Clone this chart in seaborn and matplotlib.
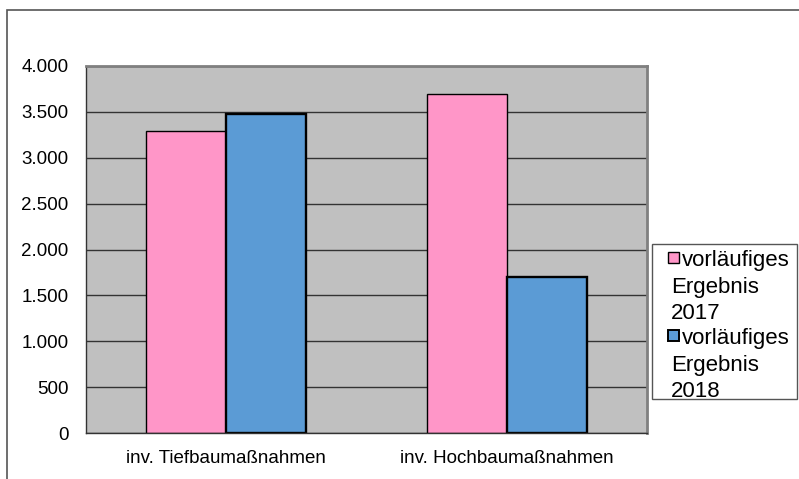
import matplotlib
matplotlib.use("Agg")
import matplotlib.pyplot as plt
import matplotlib.ticker as mticker
from matplotlib.patches import Rectangle
import seaborn as sns
import pandas as pd

categories = ["inv. Tiefbaumaßnahmen", "inv. Hochbaumaßnahmen"]
series_names = ["vorläufiges Ergebnis 2017", "vorläufiges Ergebnis 2018"]
legend_lines = [["vorläufiges", "Ergebnis", "2017"], ["vorläufiges", "Ergebnis", "2018"]]
values_2017 = [3290, 3690]
values_2018 = [3475, 1705]
colors = ["#FF96C8", "#5B9BD5"]

df = pd.DataFrame({
    "cat": categories * 2,
    "series": [series_names[0]] * 2 + [series_names[1]] * 2,
    "val": values_2017 + values_2018,
})

sns.set_theme(style="white")
plt.rcParams["font.family"] = ["Liberation Sans", "DejaVu Sans"]

W, H = 799, 479
fig = plt.figure(figsize=(W / 100, H / 100), dpi=100)
ax = fig.add_axes([86 / W, (H - 433) / H, (647 - 86) / W, (433 - 66) / H])

sns.barplot(data=df, x="cat", y="val", hue="series", palette=colors,
            width=0.57, ax=ax, edgecolor="black", linewidth=1.0,
            saturation=1, legend=False, order=categories, hue_order=series_names)

# slightly heavier outline on the second series, as in the reference
for cont, lw in zip(ax.containers, [1.0, 1.7]):
    for p in cont.patches:
        p.set_linewidth(lw)

ax.set_facecolor("#C0C0C0")
ax.set_xlim(-0.5, 1.5)
ax.set_ylim(0, 4000)
ax.set_yticks(range(0, 4001, 500))
ax.yaxis.set_major_formatter(mticker.FuncFormatter(lambda v, p: f"{int(v):,}".replace(",", ".")))
ax.yaxis.grid(True, color="#333333", linewidth=1.0)
ax.set_axisbelow(True)
ax.set_xlabel("")
ax.set_ylabel("")

ax.set_xticks([0, 1])
ax.set_xticklabels(categories, fontsize=13.5, color="black")
ax.tick_params(axis="x", which="major", length=0, pad=12)
ax.set_xticks([-0.5, 0.5, 1.5], minor=True)
ax.tick_params(axis="x", which="minor", length=5, width=1, color="#555555", direction="out")
ax.tick_params(axis="y", length=5, width=1, color="#555555", direction="out",
               labelsize=13.5, labelcolor="black", pad=7.5)

for side in ["left", "bottom"]:
    ax.spines[side].set_color("#333333")
    ax.spines[side].set_linewidth(1.0)
for side in ["top", "right"]:
    ax.spines[side].set_visible(True)
    ax.spines[side].set_color("#808080")
    ax.spines[side].set_linewidth(2.0)

# outer chart frame (left and top visible)
fig.add_artist(Rectangle((7 / W, -0.1), 1.0, (H - 10) / H + 0.1, transform=fig.transFigure,
                         fill=False, edgecolor="#555555", linewidth=1.2))

# legend box drawn by hand: swatch beside the first line, wrapped lines start under it
def px(x, y):
    return x / W, (H - y) / H

x0, y0 = px(652, 399)
fig.add_artist(Rectangle((x0, y0), (797 - 652) / W, (399 - 244) / H, transform=fig.transFigure,
                         facecolor="white", edgecolor="#555555", linewidth=1.0))
entry_top = [252, 330]
line_pitch = 26.5
for lines, col, sq_top, lw in zip(legend_lines, colors, entry_top, [1.0, 1.4]):
    sx, sy = px(668, sq_top + 11)
    fig.add_artist(Rectangle((sx, sy), 11 / W, 11 / H, transform=fig.transFigure,
                             facecolor=col, edgecolor="black", linewidth=lw))
    for i, line in enumerate(lines):
        tx, ty = px(682 if i == 0 else 671, sq_top + 14 + i * line_pitch)
        fig.text(tx, ty, line, fontsize=16, va="baseline", ha="left", color="black")

fig.savefig("out.png", dpi=100)
